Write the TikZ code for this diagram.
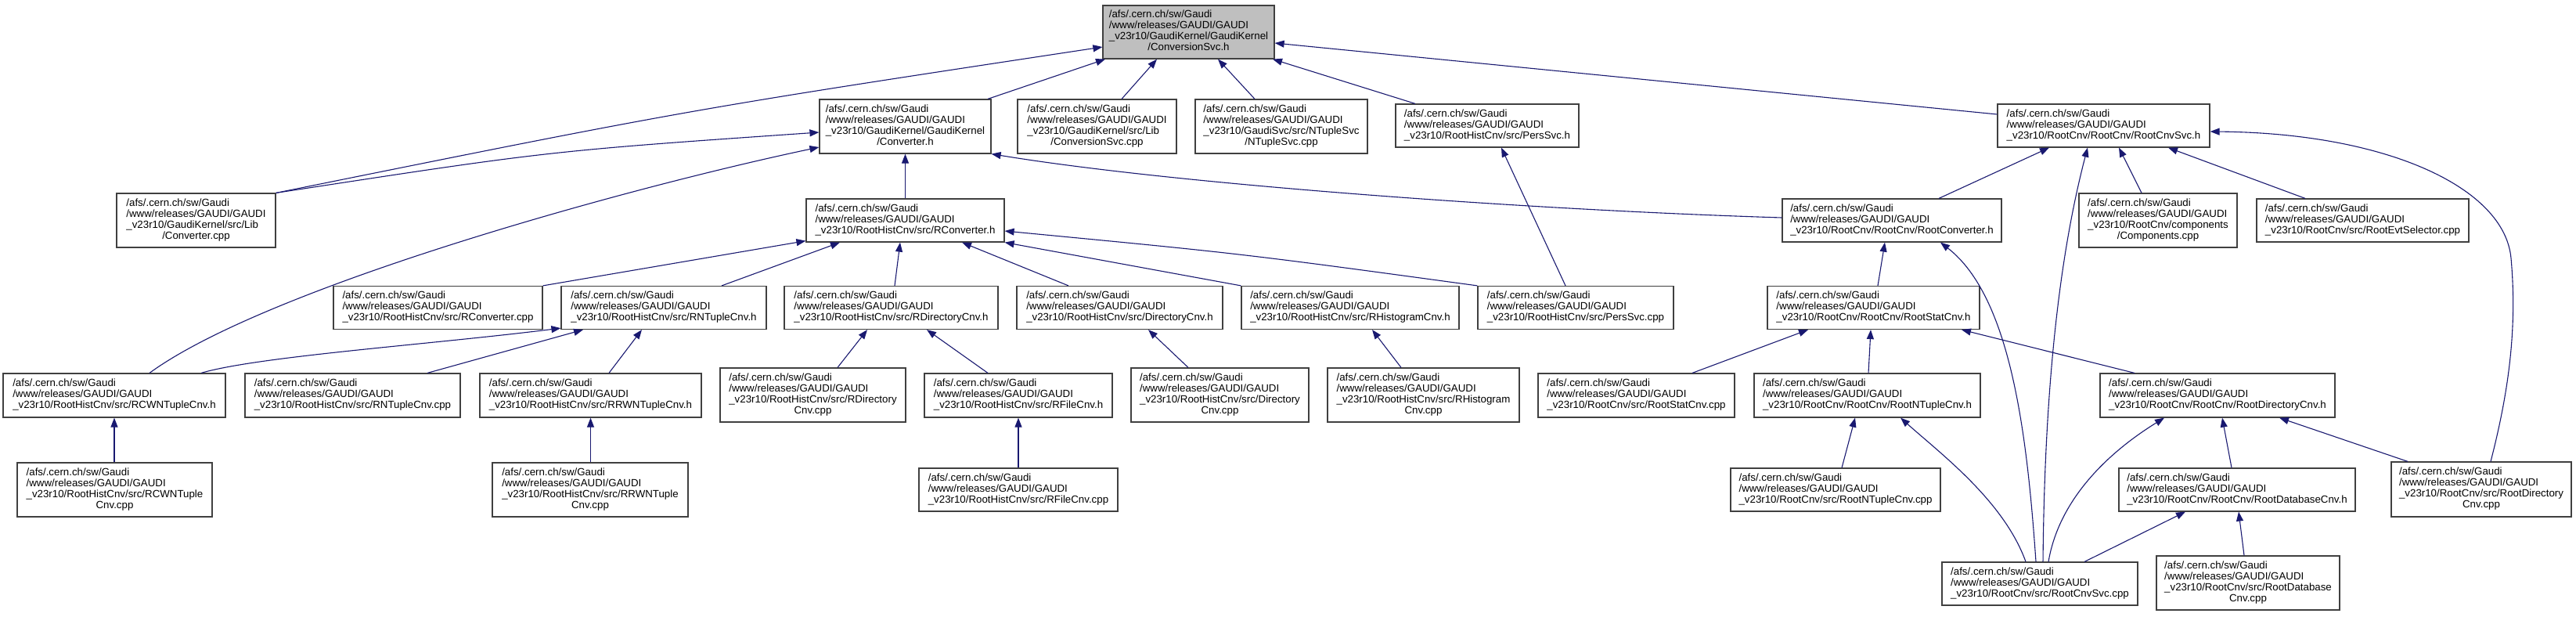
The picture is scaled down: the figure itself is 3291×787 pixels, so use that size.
\documentclass[tikz,border=0pt]{standalone}
\usepackage{fontspec}
\setmainfont{Liberation Sans}
\usetikzlibrary{arrows.meta}
\definecolor{edgeblue}{HTML}{191970}
\definecolor{boxline}{HTML}{404040}
\newcommand{\threel}[3]{\begin{tabular}{@{}l@{}}#1\\#2\\#3\end{tabular}}
\newcommand{\fourl}[4]{\begin{tabular}{@{}l@{}}#1\\#2\\#3\\\multicolumn{1}{@{}c@{}}{#4}\end{tabular}}
\newcommand{\pa}{/afs/.cern.ch/sw/Gaudi}
\newcommand{\pb}{/www/releases/GAUDI/GAUDI}
\begin{document}
\begin{tikzpicture}[x=1pt,y=-1pt,
  box/.style={draw=boxline, line width=1.2pt, fill=white, inner sep=0pt,
    font=\fontsize{13.3}{14}\selectfont},
  edge/.style={draw=edgeblue, line width=1.1pt, -{Triangle[length=12pt,width=9pt]}}]
\useasboundingbox (0,0) rectangle (3291,787);
% row 0
\node[box, fill=gray!50, minimum width=219pt, minimum height=68pt] (root) at (1518.5,41) {\fourl{\pa}{\pb}{\_v23r10/GaudiKernel/GaudiKernel}{/ConversionSvc.h}};
% row 1
\node[box, minimum width=219pt, minimum height=69pt] (convh) at (1156.5,161.5) {\fourl{\pa}{\pb}{\_v23r10/GaudiKernel/GaudiKernel}{/Converter.h}};
\node[box, minimum width=203pt, minimum height=69pt] (libcs) at (1401.5,161.5) {\fourl{\pa}{\pb}{\_v23r10/GaudiKernel/src/Lib}{/ConversionSvc.cpp}};
\node[box, minimum width=220pt, minimum height=69pt] (ntsvc) at (1637,161.5) {\fourl{\pa}{\pb}{\_v23r10/GaudiSvc/src/NTupleSvc}{/NTupleSvc.cpp}};
\node[box, minimum width=234pt, minimum height=55pt] (persh) at (1900,160.5) {\threel{\pa}{\pb}{\_v23r10/RootHistCnv/src/PersSvc.h}};
\node[box, minimum width=271pt, minimum height=55pt] (rcsvch) at (2687.5,160.5) {\threel{\pa}{\pb}{\_v23r10/RootCnv/RootCnv/RootCnvSvc.h}};
% row 2
\node[box, minimum width=203pt, minimum height=69pt] (convcpp) at (250.5,281.5) {\fourl{\pa}{\pb}{\_v23r10/GaudiKernel/src/Lib}{/Converter.cpp}};
\node[box, minimum width=253pt, minimum height=55pt] (rconvh) at (1156.5,281.5) {\threel{\pa}{\pb}{\_v23r10/RootHistCnv/src/RConverter.h}};
\node[box, minimum width=280pt, minimum height=55pt] (rootconvh) at (2417,281.5) {\threel{\pa}{\pb}{\_v23r10/RootCnv/RootCnv/RootConverter.h}};
\node[box, minimum width=202pt, minimum height=69pt] (comps) at (2757,281.5) {\fourl{\pa}{\pb}{\_v23r10/RootCnv/components}{/Components.cpp}};
\node[box, minimum width=271pt, minimum height=55pt] (evtsel) at (3018.5,281.5) {\threel{\pa}{\pb}{\_v23r10/RootCnv/src/RootEvtSelector.cpp}};
% row 3
\node[box, minimum width=267pt, minimum height=55pt] (rconvcpp) at (559.5,393) {\threel{\pa}{\pb}{\_v23r10/RootHistCnv/src/RConverter.cpp}};
\node[box, minimum width=262pt, minimum height=55pt] (rntupleh) at (848,393) {\threel{\pa}{\pb}{\_v23r10/RootHistCnv/src/RNTupleCnv.h}};
\node[box, minimum width=273pt, minimum height=55pt] (rdirh) at (1138.5,393) {\threel{\pa}{\pb}{\_v23r10/RootHistCnv/src/RDirectoryCnv.h}};
\node[box, minimum width=263pt, minimum height=55pt] (dirh) at (1430.5,393) {\threel{\pa}{\pb}{\_v23r10/RootHistCnv/src/DirectoryCnv.h}};
\node[box, minimum width=278pt, minimum height=55pt] (rhisth) at (1725,393) {\threel{\pa}{\pb}{\_v23r10/RootHistCnv/src/RHistogramCnv.h}};
\node[box, minimum width=250pt, minimum height=55pt] (perscpp) at (2013,393) {\threel{\pa}{\pb}{\_v23r10/RootHistCnv/src/PersSvc.cpp}};
\node[box, minimum width=271pt, minimum height=55pt] (rstath) at (2393.5,393) {\threel{\pa}{\pb}{\_v23r10/RootCnv/RootCnv/RootStatCnv.h}};
% row 4
\node[box, minimum width=284pt, minimum height=56pt] (rcwnh) at (146,505) {\threel{\pa}{\pb}{\_v23r10/RootHistCnv/src/RCWNTupleCnv.h}};
\node[box, minimum width=275pt, minimum height=56pt] (rntcpp) at (450.5,505) {\threel{\pa}{\pb}{\_v23r10/RootHistCnv/src/RNTupleCnv.cpp}};
\node[box, minimum width=283pt, minimum height=56pt] (rrwnh) at (754.5,505) {\threel{\pa}{\pb}{\_v23r10/RootHistCnv/src/RRWNTupleCnv.h}};
\node[box, minimum width=237pt, minimum height=69pt] (rdircpp) at (1038.5,504.5) {\fourl{\pa}{\pb}{\_v23r10/RootHistCnv/src/RDirectory}{Cnv.cpp}};
\node[box, minimum width=240pt, minimum height=56pt] (rfileh) at (1301,505) {\threel{\pa}{\pb}{\_v23r10/RootHistCnv/src/RFileCnv.h}};
\node[box, minimum width=227pt, minimum height=69pt] (dircpp) at (1558.5,504.5) {\fourl{\pa}{\pb}{\_v23r10/RootHistCnv/src/Directory}{Cnv.cpp}};
\node[box, minimum width=245pt, minimum height=69pt] (rhistcpp) at (1818.5,504.5) {\fourl{\pa}{\pb}{\_v23r10/RootHistCnv/src/RHistogram}{Cnv.cpp}};
\node[box, minimum width=251pt, minimum height=56pt] (rstatcpp) at (2090.5,505) {\threel{\pa}{\pb}{\_v23r10/RootCnv/src/RootStatCnv.cpp}};
\node[box, minimum width=289pt, minimum height=56pt] (rntupleh2) at (2385.5,505) {\threel{\pa}{\pb}{\_v23r10/RootCnv/RootCnv/RootNTupleCnv.h}};
\node[box, minimum width=300pt, minimum height=56pt] (rdirh2) at (2833,505) {\threel{\pa}{\pb}{\_v23r10/RootCnv/RootCnv/RootDirectoryCnv.h}};
% row 5
\node[box, minimum width=249pt, minimum height=69pt] (rcwncpp) at (146.5,625.5) {\fourl{\pa}{\pb}{\_v23r10/RootHistCnv/src/RCWNTuple}{Cnv.cpp}};
\node[box, minimum width=250pt, minimum height=69pt] (rrwncpp) at (754,625.5) {\fourl{\pa}{\pb}{\_v23r10/RootHistCnv/src/RRWNTuple}{Cnv.cpp}};
\node[box, minimum width=254pt, minimum height=55pt] (rfilecpp) at (1301,625.5) {\threel{\pa}{\pb}{\_v23r10/RootHistCnv/src/RFileCnv.cpp}};
\node[box, minimum width=268pt, minimum height=55pt] (rntcpp2) at (2345,625.5) {\threel{\pa}{\pb}{\_v23r10/RootCnv/src/RootNTupleCnv.cpp}};
\node[box, minimum width=302pt, minimum height=55pt] (rdbh) at (2858,625.5) {\threel{\pa}{\pb}{\_v23r10/RootCnv/RootCnv/RootDatabaseCnv.h}};
\node[box, minimum width=230pt, minimum height=70pt] (rdircpp2) at (3170,625) {\fourl{\pa}{\pb}{\_v23r10/RootCnv/src/RootDirectory}{Cnv.cpp}};
% row 6
\node[box, minimum width=250pt, minimum height=55pt] (rcsvccpp) at (2606,745.5) {\threel{\pa}{\pb}{\_v23r10/RootCnv/src/RootCnvSvc.cpp}};
\node[box, minimum width=234pt, minimum height=69pt] (rdbcpp) at (2872,744.5) {\fourl{\pa}{\pb}{\_v23r10/RootCnv/src/RootDatabase}{Cnv.cpp}};

% edges to root
\draw[edge] (convcpp.north east) .. controls (880,140) .. ([yshift=-19pt]root.west);
\draw[edge] ([xshift=105.5pt]convh.north) -- ([xshift=-106.5pt]root.south);
\draw[edge] ([xshift=31.5pt]libcs.north) -- ([xshift=-40.5pt]root.south);
\draw[edge] ([xshift=-34pt]ntsvc.north) -- ([xshift=37.5pt]root.south);
\draw[edge] ([xshift=-92pt]persh.north) -- ([xshift=107.5pt]root.south);
\draw[edge] ([yshift=14.5pt]rcsvch.west) -- ([yshift=-14pt]root.east);
% edges to Converter.h
\draw[edge] (convcpp.north east) .. controls (700,193) .. ([yshift=-7.5pt]convh.west);
\draw[edge] ([xshift=45pt]rcwnh.north) .. controls (341,367) and (800,240) .. ([yshift=-26.5pt]convh.west);
\draw[edge] (rconvh.north) -- (convh.south);
\draw[edge] ([yshift=3.5pt]rootconvh.west) .. controls (1950,268) and (1500,235) .. (convh.south east);
% edges to RConverter.h
\draw[edge] (rconvcpp.north east) -- ([yshift=2pt]rconvh.south west);
\draw[edge] ([xshift=74pt]rntupleh.north) -- ([xshift=-83.5pt]rconvh.south);
\draw[edge] ([xshift=4.5pt]rdirh.north) -- ([xshift=-6.5pt]rconvh.south);
\draw[edge] ([xshift=-65.5pt]dirh.north) -- ([xshift=72.5pt]rconvh.south);
\draw[edge] (rhisth.north west) -- (rconvh.south east);
\draw[edge] (perscpp.north west) .. controls (1587,324) .. ([yshift=-13.5pt]rconvh.east);
% PersSvc.h
\draw[edge] ([xshift=-13pt]perscpp.north) -- ([xshift=18pt]persh.south);
% RNTupleCnv.h
\draw[edge] ([xshift=111pt]rcwnh.north) .. controls (330,455) and (550,440) .. ([yshift=2pt]rntupleh.south west);
\draw[edge] ([xshift=95.5pt]rntcpp.north) -- ([xshift=-103pt]rntupleh.south);
\draw[edge] ([xshift=23.5pt]rrwnh.north) -- ([xshift=-28pt]rntupleh.south);
% RDirectoryCnv.h etc
\draw[edge] ([xshift=31.5pt]rdircpp.north) -- ([xshift=-30.5pt]rdirh.south);
\draw[edge] ([xshift=-39pt]rfileh.north) -- ([xshift=45.5pt]rdirh.south);
\draw[edge] ([xshift=-40.5pt]dircpp.north) -- ([xshift=36.5pt]dirh.south);
\draw[edge] ([xshift=-28.5pt]rhistcpp.north) -- ([xshift=28pt]rhisth.south);
% vertical ones
\draw[edge] ([xshift=-0.5pt]rcwncpp.north) -- (rcwnh.south);
\draw[edge] ([xshift=0.5pt]rrwncpp.north) -- (rrwnh.south);
\draw[edge] (rfilecpp.north) -- (rfileh.south);
% RootCnvSvc.h
\draw[edge] ([xshift=60pt]rootconvh.north) -- ([xshift=-69.5pt]rcsvch.south);
\draw[edge] ([xshift=4pt]rcsvccpp.north) .. controls (2612,500) and (2630,330) .. ([xshift=-20.5pt]rcsvch.south);
\draw[edge] ([xshift=-21pt]comps.north) -- ([xshift=19.5pt]rcsvch.south);
\draw[edge] ([xshift=-73.5pt]evtsel.north) -- ([xshift=82.5pt]rcsvch.south);
\draw[edge] ([xshift=12pt]rdircpp2.north) .. controls (3205,500) and (3216,420) .. (3208,330) .. controls (3200,240) and (3050,170) .. ([yshift=-7.5pt]rcsvch.east);
% RootConverter.h
\draw[edge] ([xshift=5.5pt]rstath.north) -- ([xshift=-9pt]rootconvh.south);
\draw[edge] ([xshift=-5pt]rcsvccpp.north) .. controls (2590,560) and (2570,380) .. ([xshift=62pt]rootconvh.south);
% RootStatCnv.h
\draw[edge] ([xshift=71.5pt]rstatcpp.north) -- ([xshift=-83.5pt]rstath.south);
\draw[edge] ([xshift=1.5pt]rntupleh2.north) -- ([xshift=-3.5pt]rstath.south);
\draw[edge] ([xshift=-106pt]rdirh2.north) -- ([xshift=112.5pt]rstath.south);
% RootNTupleCnv.h
\draw[edge] ([xshift=8pt]rntcpp2.north) -- ([xshift=-15.5pt]rntupleh2.south);
\draw[edge] ([xshift=-18pt]rcsvccpp.north) .. controls (2560,640) and (2480,580) .. ([xshift=42.5pt]rntupleh2.south);
% RootDirectoryCnv.h
\draw[edge] ([xshift=11pt]rcsvccpp.north) .. controls (2630,640) and (2690,580) .. ([xshift=-68pt]rdirh2.south);
\draw[edge] ([xshift=-7pt]rdbh.north) -- ([xshift=6pt]rdirh2.south);
\draw[edge] ([xshift=-94pt]rdircpp2.north) -- ([xshift=79pt]rdirh2.south);
% RootDatabaseCnv.h
\draw[edge] ([xshift=57pt]rcsvccpp.north) -- ([xshift=-66pt]rdbh.south);
\draw[edge] ([xshift=-5pt]rdbcpp.north) -- ([xshift=2pt]rdbh.south);
\end{tikzpicture}
\end{document}
